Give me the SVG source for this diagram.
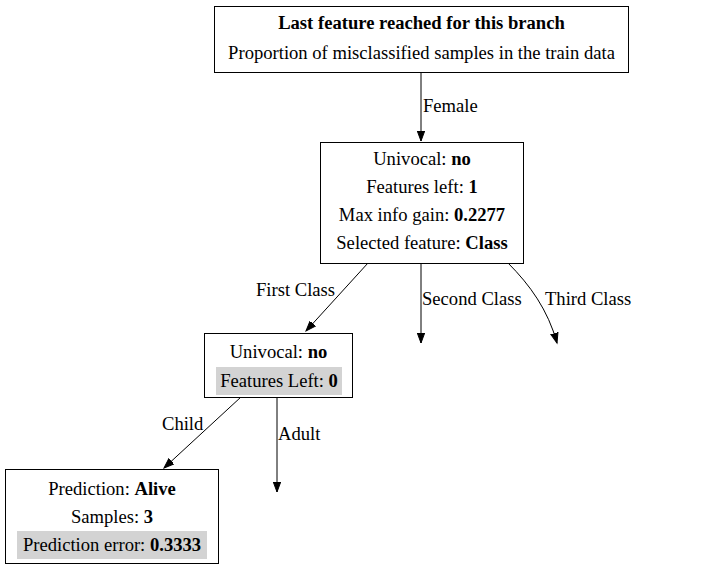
<svg xmlns="http://www.w3.org/2000/svg" width="703" height="571" viewBox="0 0 703 571">
<style>
text{font-family:'Liberation Serif','Times New Roman','DejaVu Serif',serif;font-size:18.6px;fill:#000}
.c{text-anchor:middle}
.b{font-weight:bold}
.box{fill:#fff;stroke:#000;stroke-width:1}
.hl{fill:#d3d3d3;stroke:none}
.e{fill:none;stroke:#000;stroke-width:1}
</style>
<defs>
<marker id="ah" markerWidth="12" markerHeight="12" refX="10" refY="5" orient="auto" markerUnits="userSpaceOnUse">
<path d="M0,1.3 L10,5 L0,8.7 Z" fill="#000" stroke="#000"/>
</marker>
</defs>
<rect width="703" height="571" fill="#fff"/>
<g id="connectors">
<path class="e" d="M421,72 L421,141" marker-end="url(#ah)"/>
<text x="423" y="112">Female</text>
<path class="e" d="M368,263 L306,331" marker-end="url(#ah)"/>
<text x="256" y="296">First Class</text>
<path class="e" d="M421,263 L421,343" marker-end="url(#ah)"/>
<text x="422" y="305">Second Class</text>
<path class="e" d="M508,263 C530,285 548,310 557,343" marker-end="url(#ah)"/>
<text x="545" y="305">Third Class</text>
<path class="e" d="M241,397 L164,468" marker-end="url(#ah)"/>
<text x="162" y="430">Child</text>
<path class="e" d="M277,397 L277,492" marker-end="url(#ah)"/>
<text x="278" y="440">Adult</text>
</g>
<g id="legend">
<rect class="box" x="214.5" y="6.5" width="414" height="66"/>
<text class="c b" x="421.5" y="29">Last feature reached for this branch</text>
<text class="c" x="421.5" y="59">Proportion of misclassified samples in the train data</text>
</g>
<g id="node_class">
<rect class="box" x="320.5" y="142.5" width="203" height="121"/>
<text class="c" x="422" y="165">Univocal: <tspan class="b">no</tspan></text>
<text class="c" x="422" y="193">Features left: <tspan class="b">1</tspan></text>
<text class="c" x="422" y="221">Max info gain: <tspan class="b">0.2277</tspan></text>
<text class="c" x="422" y="249">Selected feature: <tspan class="b">Class</tspan></text>
</g>
<g id="node_age">
<rect class="box" x="204.5" y="333.5" width="148" height="64"/>
<text class="c" x="278.5" y="358">Univocal: <tspan class="b">no</tspan></text>
<rect class="hl" x="216" y="367" width="126" height="28"/>
<text class="c" x="279" y="387">Features Left: <tspan class="b">0</tspan></text>
</g>
<g id="node_leaf">
<rect class="box" x="5.5" y="469.5" width="213" height="94"/>
<text class="c" x="112" y="495">Prediction: <tspan class="b">Alive</tspan></text>
<text class="c" x="112" y="523">Samples: <tspan class="b">3</tspan></text>
<rect class="hl" x="17" y="531" width="190" height="28"/>
<text class="c" x="112" y="551">Prediction error: <tspan class="b">0.3333</tspan></text>
</g>
</svg>
